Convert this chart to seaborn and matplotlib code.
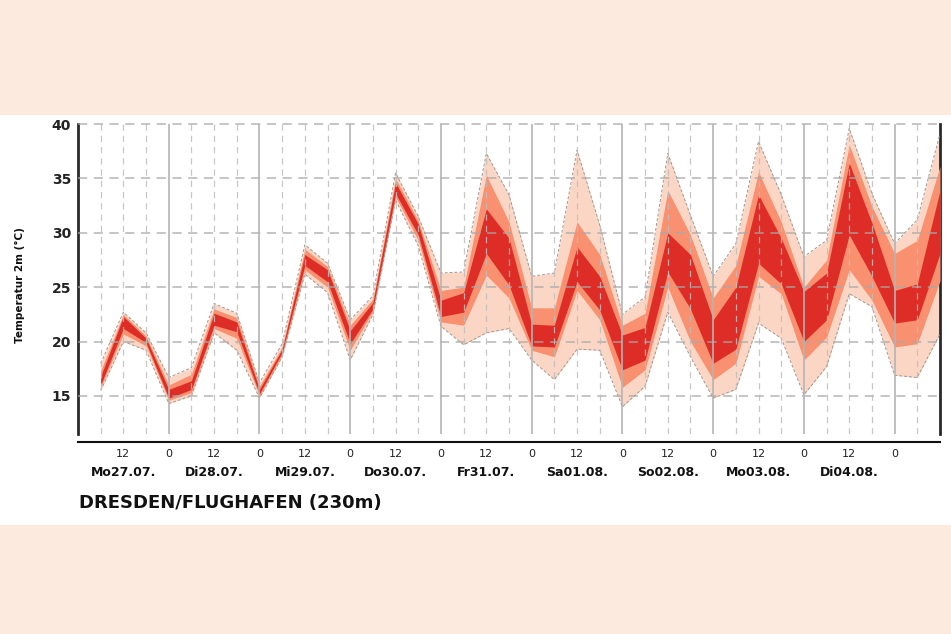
import matplotlib
matplotlib.use("Agg")
import matplotlib.pyplot as plt
import matplotlib.transforms as mtransforms
from matplotlib.patches import Rectangle
import seaborn as sns

# === DATI ===
# ore dall'inizio di Mo27.07. 00 UTC, ogni 6 ore
hours = [6, 12, 18, 24, 30, 36, 42, 48, 54, 60, 66, 72, 78, 84, 90, 96, 102, 108, 114,
         120, 126, 132, 138, 144, 150, 156, 162, 168, 174, 180, 186, 192, 198, 204,
         210, 216, 222, 228]

# banda esterna (min / max)
outer_lo = [15.5, 20.0, 19.2, 14.3, 15.0, 20.8, 19.2, 14.8, 18.6, 26.2, 24.5, 18.3, 22.5,
            33.0, 28.8, 21.4, 19.7, 20.8, 21.2, 18.3, 16.5, 19.3, 19.2, 14.0, 15.9, 22.7,
            18.6, 14.8, 15.6, 21.7, 20.3, 15.1, 17.7, 24.4, 23.2, 16.9, 16.7, 20.7]
outer_hi = [18.0, 22.7, 20.8, 16.7, 17.6, 23.5, 22.6, 16.2, 19.8, 28.9, 27.2, 22.0, 24.2,
            35.5, 31.5, 26.3, 26.4, 37.3, 33.5, 26.0, 26.3, 37.6, 30.7, 22.5, 24.1, 37.3,
            31.6, 26.0, 29.0, 38.4, 33.5, 27.8, 29.3, 39.6, 33.6, 29.0, 31.2, 39.1]
# banda intermedia
mid_lo = [15.8, 20.7, 19.6, 14.6, 15.3, 21.2, 20.3, 15.0, 18.8, 26.6, 25.0, 19.2, 22.8,
          33.3, 29.3, 21.8, 21.5, 26.1, 24.0, 19.2, 18.6, 24.7, 22.0, 15.8, 17.4, 25.0,
          20.0, 16.5, 18.0, 26.0, 24.4, 18.3, 20.4, 26.6, 23.8, 19.5, 19.8, 25.6]
mid_hi = [17.3, 22.5, 20.5, 16.0, 17.0, 23.0, 22.2, 15.9, 19.5, 28.5, 26.9, 21.5, 23.9,
          35.0, 31.1, 24.7, 25.0, 35.3, 31.0, 23.1, 23.1, 31.0, 28.0, 21.5, 22.6, 33.9,
          29.8, 24.0, 27.0, 35.6, 31.0, 25.0, 27.5, 38.1, 32.4, 28.1, 29.3, 36.1]
# banda interna
inner_lo = [16.0, 21.2, 19.9, 14.8, 15.6, 21.5, 20.9, 15.2, 19.0, 27.0, 25.5, 19.8, 23.0,
            33.6, 29.8, 22.3, 22.7, 28.1, 25.2, 19.6, 19.5, 25.5, 22.9, 17.4, 18.3, 26.4,
            23.0, 18.0, 19.3, 27.2, 25.3, 20.0, 22.0, 29.8, 26.0, 21.7, 22.0, 28.1]
inner_hi = [16.8, 22.3, 20.3, 15.6, 16.4, 22.6, 21.8, 15.6, 19.3, 28.0, 26.6, 21.0, 23.6,
            34.6, 30.8, 23.8, 24.5, 32.2, 29.5, 21.6, 21.5, 28.7, 26.0, 20.6, 21.3, 30.0,
            28.0, 22.0, 25.0, 33.5, 29.5, 24.6, 26.3, 36.4, 30.9, 24.7, 25.3, 33.9]

hour_ticks = [12, 24, 36, 48, 60, 72, 84, 96, 108, 120, 132, 144, 156, 168, 180, 192, 204, 216]
hour_labels = ["12", "0"] * 9
day_pos = [12, 36, 60, 84, 108, 132, 156, 180, 204]
day_labels = ["Mo27.07.", "Di28.07.", "Mi29.07.", "Do30.07.", "Fr31.07.",
              "Sa01.08.", "So02.08.", "Mo03.08.", "Di04.08."]
y_ticks = [15, 20, 25, 30, 35, 40]

# === GRAFICO ===
sns.set_theme(style="white")
plt.rcParams['font.family'] = ['DejaVu Sans']

fig = plt.figure(figsize=(9.51, 6.34), dpi=100)
fig.patch.set_facecolor('#fdeadf')
# fascia bianca centrale
fig.add_artist(Rectangle((0, 1 - 525 / 634), 1, 410 / 634, transform=fig.transFigure,
                         facecolor='white', edgecolor='none', zorder=-5))

ax = fig.add_axes([78 / 951, 1 - 434 / 634, 862 / 951, 310 / 634])
ax.set_facecolor('white')

# bande
ax.fill_between(hours, outer_lo, outer_hi, color='#fcd6c5', lw=0, zorder=2)
ax.fill_between(hours, mid_lo, mid_hi, color='#f9906f', lw=0, zorder=3)
ax.fill_between(hours, inner_lo, inner_hi, color='#de2d26', lw=0, zorder=4)

# bordi tratteggiati della banda esterna
for edge in (outer_lo, outer_hi):
    sns.lineplot(x=hours, y=edge, ax=ax, color='#a09890', lw=0.7,
                 linestyle=(0, (3, 2)), zorder=5)

# griglia sopra le bande
for v in y_ticks:
    ax.axhline(v, color='#a8a8a8', lw=1.1, linestyle=(0, (6, 4.3)), alpha=0.85,
               zorder=6, clip_on=False)
for d in range(24, 228, 24):
    ax.axvline(d, color='#b4b4b4', lw=1.4, alpha=0.85, zorder=6)
for h in range(6, 228, 6):
    if h % 24:
        ax.axvline(h, color='#bdbdbd', lw=0.9, linestyle=(0, (5, 4)), alpha=0.85, zorder=6)

ax.set_xlim(0, 228)
ax.set_ylim(11.5, 40)

# assi
for s in ('left', 'right'):
    ax.spines[s].set_color('#2a2a2a')
    ax.spines[s].set_linewidth(2)
ax.spines['top'].set_visible(False)
ax.spines['bottom'].set_position(('outward', 5.8))
ax.spines['bottom'].set_color('#111111')
ax.spines['bottom'].set_linewidth(1.5)

ax.set_yticks(y_ticks)
ax.set_yticklabels([str(v) for v in y_ticks], fontsize=10, fontweight='bold', color='#222222')
ax.set_xticks(hour_ticks)
ax.set_xticklabels(hour_labels, fontsize=8, color='#222222')
ax.tick_params(axis='both', length=0)
ax.tick_params(axis='y', pad=5)
ax.tick_params(axis='x', pad=5)
ax.set_xlabel('')
ax.set_ylabel('')

# etichette dei giorni
trans = mtransforms.blended_transform_factory(ax.transData, fig.transFigure)
for x, lab in zip(day_pos, day_labels):
    ax.text(x, 1 - 472 / 634, lab, transform=trans, ha='center', va='center',
            fontsize=9, fontweight='bold', color='#111111')

fig.text(20 / 951, 1 - 285 / 634, 'Temperatur 2m (°C)', rotation=90, ha='center',
         va='center', fontsize=7.5, fontweight='bold', color='#111111')
fig.text(79 / 951, 1 - 503 / 634, 'DRESDEN/FLUGHAFEN (230m)', ha='left', va='center',
         fontsize=13, fontweight='bold', color='#111111')

fig.savefig('out.png', dpi=100, facecolor=fig.get_facecolor())
